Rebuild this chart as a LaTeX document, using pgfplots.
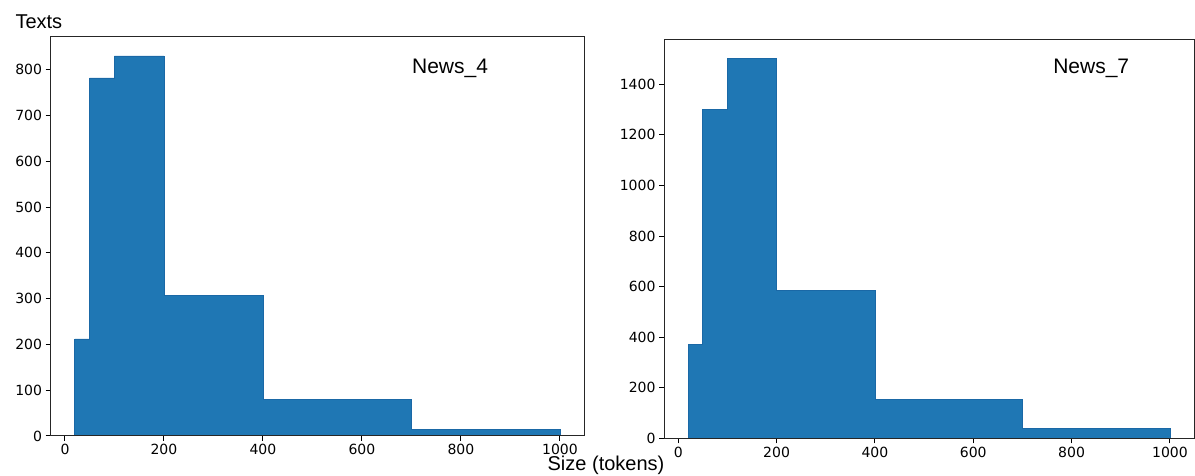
\documentclass[border=0pt]{standalone}
\usepackage{pgfplots}
\pgfplotsset{compat=1.18}
\usepackage{fontspec}
\setmainfont{Liberation Sans}
\newfontfamily\tickfont{DejaVu Sans}
\definecolor{C0}{HTML}{1F77B4}
\definecolor{C0e}{HTML}{1A68A6}
\begin{document}
\begin{tikzpicture}
\useasboundingbox (0pt,0pt) rectangle (1195pt,476pt);
\pgfplotsset{
 hist/.style={
  scale only axis,
  anchor=south west,
  xmin=-29, xmax=1049, ymin=0,
  xtick={0,200,...,1000},
  tick align=outside,
  xtick pos=left, ytick pos=left,
  major tick length=5pt,
  tick style={black, line width=1pt},
  axis line style={line width=1pt, black!85},
  ticklabel style={font=\tickfont\fontsize{14}{16}\selectfont},
  /pgf/number format/assume math mode=true,
  /pgf/number format/set thousands separator={},
  scaled ticks=false,
  axis on top,
 }}
\begin{axis}[hist, at={(50.6pt,40pt)}, width=533.6pt, height=399pt, ymax=871.5, ytick={0,100,...,800}]
\addplot[const plot, fill=C0, draw=C0e, line width=0.8pt] coordinates {(20,212)(50,782)(100,830)(200,307)(400,80)(700,15)(1000,15)} \closedcycle;
\node[anchor=base, font=\fontsize{21}{24}\selectfont] at (axis cs:778,791) {News\_4};
\end{axis}
\begin{axis}[hist, at={(664pt,37.7pt)}, width=530pt, height=399pt, ymax=1578, ytick={0,200,...,1400}]
\addplot[const plot, fill=C0, draw=C0e, line width=0.8pt] coordinates {(20,372)(50,1300)(100,1502)(200,586)(400,153)(700,38)(1000,38)} \closedcycle;
\node[anchor=base, font=\fontsize{21}{24}\selectfont] at (axis cs:840,1443) {News\_7};
\end{axis}
\node[anchor=base west, font=\fontsize{20}{24}\selectfont] at (12pt,447pt) {Texts};
\node[anchor=base, font=\fontsize{20}{24}\selectfont] at (606pt,5pt) {Size (tokens)};
\end{tikzpicture}
\end{document}
